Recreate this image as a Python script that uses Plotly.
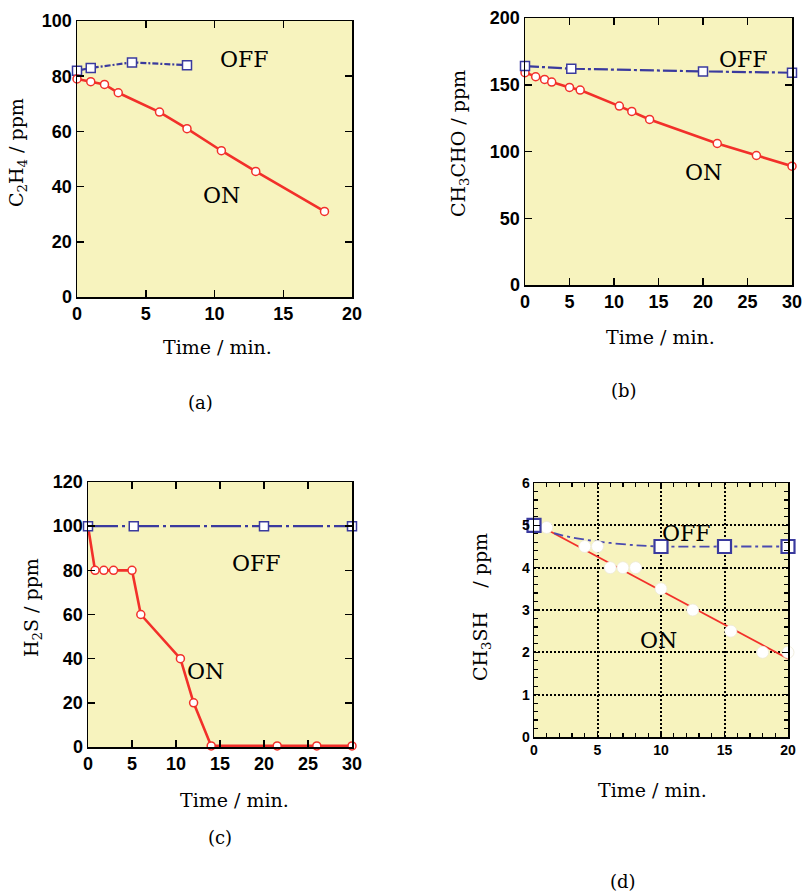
import plotly.graph_objects as go

W, H = 803, 895

# ---------------- data ----------------
a_on_t = [0, 1, 2, 3, 6, 8, 10.5, 13, 18]
a_on_y = [79, 78, 77, 74, 67, 61, 53, 45.5, 31]
a_off_t = [0, 1, 4, 8]
a_off_y = [82, 83, 85, 84]

b_on_t = [0, 1.2, 2.2, 3, 5, 6.2, 10.6, 12, 14, 21.6, 26, 30]
b_on_y = [159, 156, 154, 152, 148, 146, 134, 130, 124, 106, 97, 89]
b_off_t = [0, 5.2, 20, 30]
b_off_y = [164, 162, 160, 159]

c_on_t = [0, 0.8, 1.8, 2.9, 5, 6, 10.5, 12, 14, 21.5, 26, 30]
c_on_y = [100, 80, 80, 80, 80, 60, 40, 20, 0.5, 0.5, 0.5, 0.5]
c_off_t = [0, 5.2, 20, 30]
c_off_y = [100, 100, 100, 100]

d_on_t = [1, 4, 5, 6, 7, 8, 10, 12.5, 15.5, 18, 20]
d_on_y = [4.95, 4.5, 4.5, 4.0, 4.0, 4.0, 3.5, 3.0, 2.5, 2.0, 2.0]
d_fit_t = [1, 20]
d_fit_y = [4.9, 1.85]
d_off_t = [0, 2, 5, 8, 10, 15, 20]
d_off_y = [5.0, 4.78, 4.62, 4.53, 4.5, 4.5, 4.5]
d_off_mt = [0, 10, 15, 20]
d_off_my = [5.0, 4.5, 4.5, 4.5]

# ---------------- style ----------------
BG = "#F7F3BE"
RED = "#F2302A"
BLUE = "#3A3A9E"
SERIF = "DejaVu Serif"
SANS = "Liberation Sans"

def px_x(p):
    return p / W

def px_y(p):
    return 1 - p / H

fig = go.Figure()

panels = [
    # name, x0px, x1px, ytop, ybot, xrange, yrange, xdtick, ydtick
    ("1", 77, 352, 21, 297, [0, 20], [0, 100], 5, 20),
    ("2", 525, 792, 18, 285, [0, 30], [0, 200], 5, 50),
    ("3", 88, 352, 482, 747, [0, 30], [0, 120], 5, 20),
    ("4", 534, 788, 483, 737, [0, 20], [0, 6], 5, 1),
]

layout = {}
for name, x0, x1, yt, yb, xr, yr, xd, yd in panels:
    xa = "xaxis" if name == "1" else "xaxis" + name
    ya = "yaxis" if name == "1" else "yaxis" + name
    is_d = name == "4"
    tf = dict(family=SANS, size=14 if is_d else 18, color="black", weight="bold")
    common = dict(
        showline=True, linecolor="black", linewidth=1.5, mirror="allticks",
        ticks="inside", ticklen=7 if not is_d else 6, tickwidth=1.5, tickcolor="black",
        tickfont=tf, zeroline=False, fixedrange=True, automargin=False,
        showgrid=is_d, gridcolor="black", griddash="2px,2px", gridwidth=2,
    )
    xdict = dict(common, domain=[px_x(x0), px_x(x1)], range=xr, dtick=xd,
                 anchor="y" if name == "1" else "y" + name)
    ydict = dict(common, domain=[px_y(yb), px_y(yt)], range=yr, dtick=yd,
                 anchor="x" if name == "1" else "x" + name)
    if is_d:
        xdict["minor"] = dict(ticks="inside", ticklen=4, dtick=1, tickcolor="black", tickwidth=1.2)
        ydict["minor"] = dict(ticks="inside", ticklen=4, dtick=0.2, tickcolor="black", tickwidth=1.2)
    layout[xa] = xdict
    layout[ya] = ydict

def add_on(t, y, ax):
    fig.add_trace(go.Scatter(
        x=t, y=y, mode="lines+markers", xaxis=ax[0], yaxis=ax[1],
        line=dict(color=RED, width=2.6),
        marker=dict(symbol="circle", size=8, color="white", line=dict(color=RED, width=1.5)),
        showlegend=False, cliponaxis=False))

def add_off(t, y, ax, dash):
    fig.add_trace(go.Scatter(
        x=t, y=y, mode="lines+markers", xaxis=ax[0], yaxis=ax[1],
        line=dict(color=BLUE, width=2.2, dash=dash),
        marker=dict(symbol="square", size=9, color="white", line=dict(color=BLUE, width=1.5)),
        showlegend=False, cliponaxis=False))

add_off(a_off_t, a_off_y, ("x", "y"), "2px,2px,6px,2px")
add_on(a_on_t, a_on_y, ("x", "y"))

add_on(b_on_t, b_on_y, ("x2", "y2"))
add_off(b_off_t, b_off_y, ("x2", "y2"), "14px,3px,3px,3px")

add_on(c_on_t, c_on_y, ("x3", "y3"))
add_off(c_off_t, c_off_y, ("x3", "y3"), "30px,4px,3px,4px")

# panel d
fig.add_trace(go.Scatter(
    x=d_fit_t, y=d_fit_y, mode="lines", xaxis="x4", yaxis="y4",
    line=dict(color=RED, width=1.8), showlegend=False))
fig.add_trace(go.Scatter(
    x=d_off_t, y=d_off_y, mode="lines", xaxis="x4", yaxis="y4",
    line=dict(color="#4A4AB0", width=1.8, dash="10px,4px,3px,4px", shape="spline"),
    showlegend=False))
fig.add_trace(go.Scatter(
    x=d_on_t, y=d_on_y, mode="markers", xaxis="x4", yaxis="y4",
    marker=dict(symbol="circle", size=12, color="white", line=dict(color="#EDEAD8", width=0.8)),
    showlegend=False, cliponaxis=False))
fig.add_trace(go.Scatter(
    x=d_off_mt, y=d_off_my, mode="markers", xaxis="x4", yaxis="y4",
    marker=dict(symbol="square", size=13, color="white", line=dict(color=BLUE, width=2.2)),
    showlegend=False, cliponaxis=False))

# ---------------- annotations ----------------
ann = []
def label(text, x, y, ax, size=22):
    ann.append(dict(text=text, x=x, y=y, xref=ax[0], yref=ax[1], showarrow=False,
                    font=dict(family=SERIF, size=size, color="black")))

label("OFF", 12.2, 86, ("x", "y"))
label("ON", 10.5, 36.6, ("x", "y"))
label("OFF", 24.5, 169, ("x2", "y2"))
label("ON", 20.1, 84, ("x2", "y2"))
label("OFF", 19.2, 83, ("x3", "y3"))
label("ON", 13.3, 34, ("x3", "y3"))
label("OFF", 12.0, 4.8, ("x4", "y4"))
label("ON", 9.8, 2.29, ("x4", "y4"))

def ptext(text, xp, yp, angle=0, size=19):
    ann.append(dict(text=text, x=px_x(xp), y=px_y(yp), xref="paper", yref="paper",
                    showarrow=False, textangle=angle, xanchor="center", yanchor="middle",
                    font=dict(family=SERIF, size=size, color="black")))

ptext("C<sub>2</sub>H<sub>4</sub> / ppm", 17, 153, -90)
ptext("Time / min.", 218, 347)
ptext("(a)", 200, 402, size=18)

ptext("CH<sub>3</sub>CHO / ppm", 459, 143, -90)
ptext("Time / min.", 660, 337)
ptext("(b)", 624, 390, size=18)

ptext("H<sub>2</sub>S / ppm", 32, 608, -90)
ptext("Time / min.", 234, 800)
ptext("(c)", 220, 837, size=18)

ptext("CH<sub>3</sub>SH\u00a0\u00a0\u00a0\u00a0/ ppm", 481, 607, -90)
ptext("Time / min.", 652, 790)
ptext("(d)", 623, 881, size=18)

fig.update_layout(
    width=W, height=H, margin=dict(l=0, r=0, t=0, b=0, autoexpand=False),
    paper_bgcolor="white", plot_bgcolor=BG,
    annotations=ann, showlegend=False, **layout)

fig.write_html(
    "out.html",
    config={"displayModeBar": False, "staticPlot": True},
    post_script="document.body.style.margin='0';document.body.style.overflow='hidden';",
)
